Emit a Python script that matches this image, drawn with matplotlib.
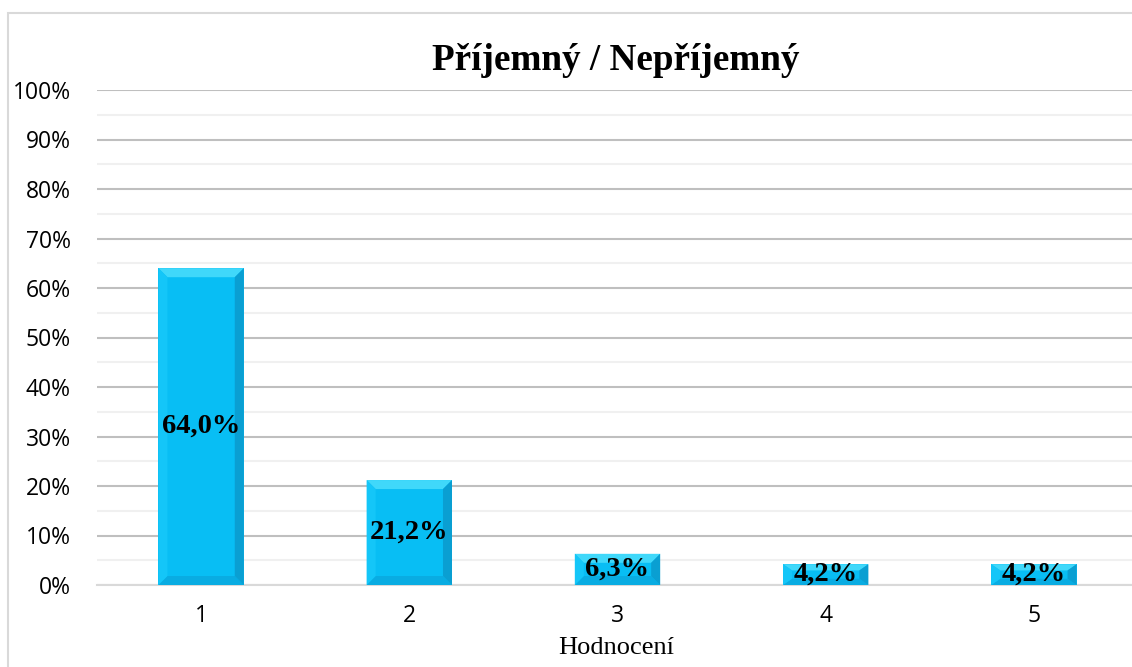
import numpy as np
import matplotlib.pyplot as plt
from matplotlib.patches import Polygon, Rectangle
from matplotlib.ticker import MultipleLocator, FuncFormatter

# Data
categories = ['1', '2', '3', '4', '5']
values = [64.0, 21.2, 6.3, 4.2, 4.2]
labels = ['64,0%', '21,2%', '6,3%', '4,2%', '4,2%']

W, H = 1132, 667
fig = plt.figure(figsize=(W / 100, H / 100), dpi=100)

# outer chart frame
fig.patches.append(Rectangle((8 / W, -0.1), 1.2, 1 - 13 / H + 0.1, transform=fig.transFigure,
                             fill=False, edgecolor='#D9D9D9', linewidth=1.5))

ax = fig.add_axes([97 / W, 82 / H, 1041 / W, 495 / H])

x = np.arange(1, len(values) + 1)
bw = 0.41
main_c = '#08BEF4'
bars = ax.bar(x, values, width=bw, color=main_c, zorder=3)

# bevel on each bar
px_x = 1 / 208.0
px_y = 1 / 4.95
for xi, v in zip(x, values):
    x0, x1 = xi - bw / 2, xi + bw / 2
    bx = 9 * px_x
    by = min(9 * px_y, v * 0.3)
    faces = [
        ([(x0, v), (x1, v), (x1 - bx, v - by), (x0 + bx, v - by)], '#40D8FA'),
        ([(x0, 0), (x1, 0), (x1 - bx, by), (x0 + bx, by)], '#09ACE2'),
        ([(x0, 0), (x0, v), (x0 + bx, v - by), (x0 + bx, by)], '#14C6F8'),
        ([(x1, 0), (x1, v), (x1 - bx, v - by), (x1 - bx, by)], '#0A9FD2'),
    ]
    for pts, c in faces:
        ax.add_patch(Polygon(pts, closed=True, facecolor=c, edgecolor='none', zorder=4))
    ax.text(xi, v / 2, labels[xi - 1], ha='center', va='center', zorder=5,
            fontsize=20.5, fontweight='bold', family='Liberation Serif', color='black')

ax.set_xlim(0.5, 5.5)
ax.set_ylim(0, 100)
ax.yaxis.set_major_locator(MultipleLocator(10))
ax.yaxis.set_minor_locator(MultipleLocator(5))
ax.yaxis.set_major_formatter(FuncFormatter(lambda v, p: f'{v:.0f}%'))
ax.grid(True, which='major', axis='y', color='#BFBFBF', linewidth=1.5, zorder=0)
ax.grid(True, which='minor', axis='y', color='#F0F0F0', linewidth=1.5, zorder=0)
ax.set_xticks(x)
ax.set_xticklabels(categories)
for s in ['top', 'left', 'right']:
    ax.spines[s].set_visible(False)
ax.spines['bottom'].set_color('#D9D9D9')
ax.spines['bottom'].set_linewidth(1.5)
ax.tick_params(axis='y', which='both', length=0, pad=19, labelsize=16.5)
ax.tick_params(axis='x', which='both', length=0, pad=14, labelsize=16.5)
for t in ax.get_xticklabels() + ax.get_yticklabels():
    t.set_family('Open Sans')

fig.text(616 / W, 1 - 60 / H, 'Příjemný / Nepříjemný', ha='center', va='center',
         fontsize=26.7, fontweight='bold', family='Liberation Serif')
fig.text(616 / W, 1 - 648 / H, 'Hodnocení', ha='center', va='center',
         fontsize=19, family='Liberation Serif')

fig.savefig('out.png', dpi=100)
